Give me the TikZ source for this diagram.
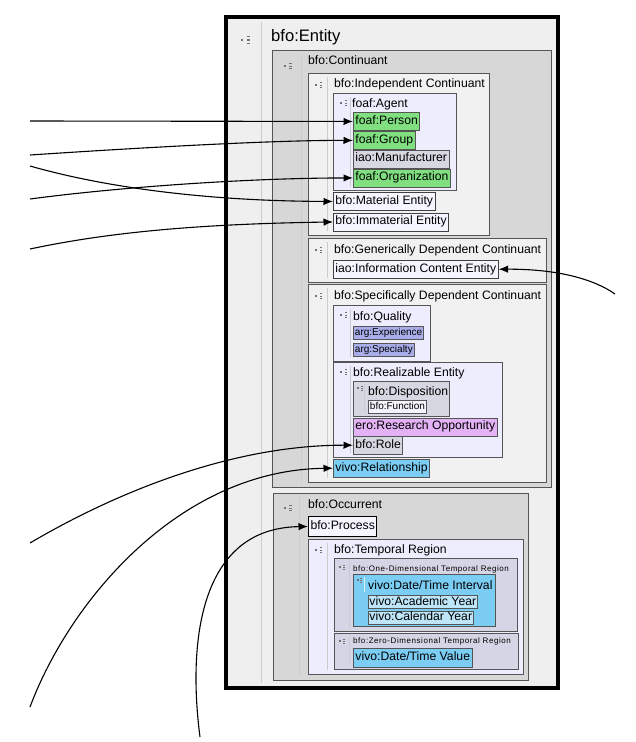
\documentclass[tikz,border=0pt]{standalone}
\usepackage{fontspec}
\setmainfont{Liberation Sans}
\newfontfamily\tinyfont[LetterSpace=7]{Liberation Sans}
\usetikzlibrary{arrows.meta}

\definecolor{entitybg}{HTML}{EFEFEF}
\definecolor{groupbg}{HTML}{D7D7D7}
\definecolor{panelbg}{HTML}{F1F1F1}
\definecolor{lavender}{HTML}{EDEDFD}
\definecolor{agentgreen}{HTML}{80E080}
\definecolor{slate}{HTML}{D7D7E1}
\definecolor{periwinkle}{HTML}{A9AEEA}
\definecolor{oppviolet}{HTML}{E2B2F4}
\definecolor{skyblue}{HTML}{7CCDF4}
\definecolor{paleblue}{HTML}{BEE6F8}
\definecolor{regionbg}{HTML}{D5D5E5}
\definecolor{leafwhite}{HTML}{F5F5FF}
\definecolor{rim}{HTML}{555555}

% drag handle: x, y, size
\newcommand{\dragicon}[3]{%
  \fill[black!55] ({#1-#3},{#2-#3}) rectangle ({#1+#3},{#2+#3});
  \foreach \k in {-1,0,1}
    \fill[black!55] ({#1+3.5*#3},{#2+\k*2.6*#3-0.45*#3}) rectangle ({#1+6*#3},{#2+\k*2.6*#3+0.45*#3});
}

\begin{document}
\begin{tikzpicture}[x=1pt, y=-1pt,
    box/.style={draw=rim, line width=0.8pt},
    leaf/.style={draw=rim, line width=0.9pt, anchor=north west, inner xsep=2pt, inner ysep=0pt,
      minimum height=18pt, text height=9pt, text depth=3pt, font=\fontsize{12.2}{14}\selectfont},
    smallleaf/.style={leaf, inner xsep=1.5pt, minimum height=13pt, text height=7.5pt, text depth=2pt,
      font=\fontsize{10}{12}\selectfont},
    paleleaf/.style={leaf, inner xsep=1pt, minimum height=13pt, text height=9pt, text depth=2.5pt},
    title/.style={anchor=base west, inner sep=0pt, font=\fontsize{12.2}{14}\selectfont},
    tinytitle/.style={anchor=base west, inner sep=0pt, font=\tinyfont\fontsize{8}{10}\selectfont},
    sep/.style={draw=black!20, line width=1pt},
    link/.style={line width=1.1pt, -{Latex[length=9.5pt,width=7.5pt]}}
  ]
    \useasboundingbox (0,0) rectangle (636,742);

    % entity frame
    \fill[entitybg] (226,17) rectangle (558,688);
    \draw[sep] (261,22) -- (261,683);
    \dragicon{242}{40}{1.4}
    \node[title, font=\fontsize{16.6}{18}\selectfont] (entity) at (271,41) {bfo:Entity};

    % continuant
    \draw[box, fill=groupbg] (272,50) rectangle (551,487);
    \draw[sep] (301,54) -- (301,483);
    \dragicon{285}{66}{1.1}
    \node[title] (continuant) at (308,64) {bfo:Continuant};

    \draw[box, fill=panelbg] (308,73) rectangle (489,235);
    \draw[sep] (327,77) -- (327,231);
    \dragicon{316}{85}{1}
    \node[title] (independent) at (334,87) {bfo:Independent Continuant};

    \draw[box, fill=lavender] (333,93) rectangle (456,190);
    \draw[sep] (350,97) -- (350,187);
    \dragicon{341}{103}{1}
    \node[title] (agent) at (352,107) {foaf:Agent};
    \node[leaf, fill=agentgreen] (person) at (353,112) {foaf:Person};
    \node[leaf, fill=agentgreen] (group) at (353,131) {foaf:Group};
    \node[leaf, fill=slate] (manufacturer) at (353,149.5) {iao:Manufacturer};
    \node[leaf, fill=agentgreen] (organization) at (353,168.5) {foaf:Organization};
    \node[leaf, fill=leafwhite, draw=black!75] (material) at (333,192) {bfo:Material Entity};
    \node[leaf, fill=leafwhite, draw=black!75] (immaterial) at (333,212.5) {bfo:Immaterial Entity};

    \draw[box, fill=panelbg] (308,238) rectangle (546,282);
    \draw[sep] (327,242) -- (327,278);
    \dragicon{316}{250}{1}
    \node[title] (generic) at (334,253) {bfo:Generically Dependent Continuant};
    \node[leaf, fill=leafwhite, draw=black!75, minimum height=18.5pt] (information) at (333,259.5) {iao:Information Content Entity};

    \draw[box, fill=panelbg] (308,284) rectangle (546,482);
    \draw[sep] (327,288) -- (327,478);
    \dragicon{316}{296}{1}
    \node[title] (specific) at (334,299) {bfo:Specifically Dependent Continuant};

    \draw[box, fill=lavender] (333,305) rectangle (430,361);
    \draw[sep] (350,309) -- (350,357);
    \dragicon{341}{315}{1}
    \node[title] (quality) at (353,320) {bfo:Quality};
    \node[smallleaf, fill=periwinkle] (experience) at (353,325.5) {arg:Experience};
    \node[smallleaf, fill=periwinkle] (specialty) at (353,342.5) {arg:Specialty};

    \draw[box, fill=lavender] (333,362) rectangle (502,457);
    \draw[sep] (350,366) -- (350,453);
    \dragicon{341}{372}{1}
    \node[title] (realizable) at (353,376) {bfo:Realizable Entity};

    \draw[box, fill=slate] (353,381) rectangle (449,416);
    \draw[sep] (364,384) -- (364,413);
    \dragicon{358}{388}{0.8}
    \node[title] (disposition) at (368,395) {bfo:Disposition};
    \node[smallleaf, fill=leafwhite, minimum height=13.5pt] (function) at (368,399.5) {bfo:Function};

    \node[leaf, fill=oppviolet] (opportunity) at (353,417.5) {ero:Research Opportunity};
    \node[leaf, fill=slate, minimum height=17.5pt] (role) at (353,436) {bfo:Role};
    \node[leaf, fill=skyblue, minimum height=18.5pt] (relationship) at (333,458.5) {vivo:Relationship};

    % occurrent
    \draw[box, fill=groupbg] (273,493) rectangle (528,680);
    \draw[sep] (299,497) -- (299,676);
    \dragicon{285}{508}{1.1}
    \node[title] (occurrent) at (308,508) {bfo:Occurrent};
    \node[leaf, fill=leafwhite, draw=black, line width=1pt, minimum height=20pt] (process) at (308,516) {bfo:Process};

    \draw[box, fill=lavender] (308,539) rectangle (523,674);
    \draw[sep] (327,543) -- (327,670);
    \dragicon{316}{550}{1}
    \node[title] (temporal) at (334,553) {bfo:Temporal Region};

    \draw[box, fill=regionbg] (334,558) rectangle (517,631);
    \draw[sep] (349,561) -- (349,628);
    \dragicon{340}{567}{0.8}
    \node[tinytitle] (onedim) at (353,571) {bfo:One-Dimensional Temporal Region};

    \draw[box, fill=skyblue] (353,574) rectangle (495,626);
    \draw[draw=white!70!skyblue, line width=0.8pt] (364,577) -- (364,592);
    \dragicon{358}{580}{0.7}
    \node[title] (interval) at (368,589) {vivo:Date/Time Interval};
    \node[paleleaf, fill=paleblue] (academic) at (368,595) {vivo:Academic Year};
    \node[paleleaf, fill=paleblue] (calendar) at (368,610.5) {vivo:Calendar Year};

    \draw[box, fill=regionbg] (334,633) rectangle (518,669);
    \draw[sep] (349,636) -- (349,666);
    \dragicon{340}{641}{0.8}
    \node[tinytitle] (zerodim) at (353,643) {bfo:Zero-Dimensional Temporal Region};
    \node[leaf, fill=skyblue, minimum height=19pt] (value) at (353,648) {vivo:Date/Time Value};

    \draw[line width=4.5pt] (226,17) rectangle (558,688);

    % incoming links
    \coordinate (inPerson) at (30,121);
    \coordinate (inGroup) at (30,155);
    \coordinate (inMaterial) at (30,166);
    \coordinate (inOrg) at (30,199);
    \coordinate (inImmaterial) at (30,249);
    \coordinate (inInfo) at (615,294);
    \coordinate (inRole) at (30,543);
    \coordinate (inRelation) at (30,707);
    \coordinate (inProcess) at (200,737);

    \draw[link] (inPerson) -- (person.west);
    \draw[link] (inGroup) .. controls (150,147) and (280,140) .. (group.west);
    \draw[link] (inMaterial) .. controls (100,186) and (200,201) .. (material.west);
    \draw[link] (inOrg) .. controls (120,187) and (250,178) .. (organization.west);
    \draw[link] (inImmaterial) .. controls (110,232) and (200,224) .. (immaterial.west);
    \draw[link] (inInfo) .. controls (595,280) and (560,269) .. (information.east);
    \draw[link] (inRole) .. controls (120,490) and (235,445) .. (role.west);
    \draw[link] (inRelation) .. controls (70,600) and (180,470) .. (relationship.west);
    \draw[link] (inProcess) .. controls (188,645) and (198,528) .. (process.west);
\end{tikzpicture}
\end{document}
